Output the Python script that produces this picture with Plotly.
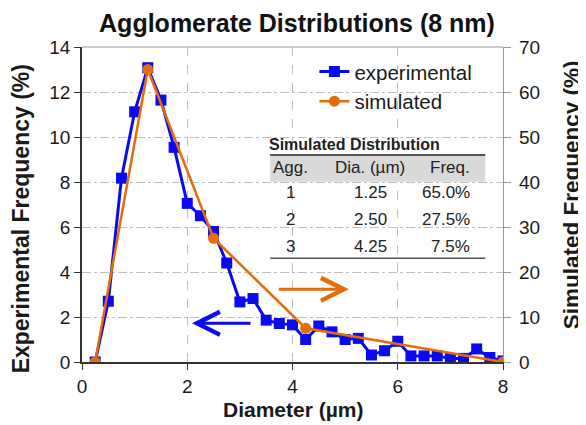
import plotly.graph_objects as go

# Experimental data
exp_x = [0.25, 0.5, 0.75, 1.0, 1.25, 1.5, 1.75, 2.0, 2.25, 2.5, 2.75, 3.0, 3.25, 3.5, 3.75,
         4.0, 4.25, 4.5, 4.75, 5.0, 5.25, 5.5, 5.75, 6.0, 6.25, 6.5, 6.75, 7.0, 7.25, 7.5, 7.75, 8.0]
exp_y = [0.0, 2.7, 8.17, 11.12, 13.08, 11.64, 9.54, 7.05, 6.5, 5.8, 4.4, 2.67, 2.82, 1.86, 1.71,
         1.65, 1.0, 1.6, 1.34, 1.0, 1.05, 0.31, 0.5, 0.92, 0.27, 0.27, 0.27, 0.16, 0.16, 0.58, 0.2, 0.05]

# Simulated data (right axis)
sim_x = [0.25, 1.25, 2.5, 4.25, 8.0]
sim_y = [0.0, 65.0, 27.5, 7.5, 0.0]

# Table contents
table_title = "Simulated Distribution"
table_header = ["Agg.", "Dia. (µm)", "Freq."]
table_agg = ["1", "2", "3"]
table_dia = ["1.25", "2.50", "4.25"]
table_freq = ["65.0%", "27.5%", "7.5%"]

x_ticks = [0, 2, 4, 6, 8]
y_ticks = [0, 2, 4, 6, 8, 10, 12, 14]
y2_ticks = [0, 10, 20, 30, 40, 50, 60, 70]

BLUE = "#0A0AF0"
ORANGE = "#E46C0A"
FONT = "Liberation Sans, Arial, sans-serif"
GRID = "#BFBFBF"
TXT = "#1a1a1a"

fig = go.Figure()
fig.add_trace(go.Scatter(x=exp_x, y=exp_y, name="experimental", mode="lines+markers",
                         line=dict(color=BLUE, width=3),
                         marker=dict(symbol="square", size=11, color=BLUE)))
fig.add_trace(go.Scatter(x=sim_x, y=sim_y, name="simulated", mode="lines+markers", yaxis="y2",
                         line=dict(color=ORANGE, width=2.5),
                         marker=dict(symbol="circle", size=11, color=ORANGE)))

# page body has an 8px default margin: the figure is sized so it ends at the window edge
W, H = 578, 417
fig.update_layout(
    width=W, height=H,
    margin=dict(l=74, r=83, t=39, b=63, autoexpand=False),
    paper_bgcolor="white", plot_bgcolor="white",
    font=dict(family=FONT, size=19, color=TXT),
    title=dict(text="<b>Agglomerate Distributions (8 nm)</b>", x=0.5, xanchor="center",
               xref="container", y=1 - 15 / H, yref="container", yanchor="middle",
               font=dict(size=25, color="#111")),
    showlegend=True,
    legend=dict(x=0.552, y=0.985, xanchor="left", yanchor="top", bgcolor="rgba(0,0,0,0)",
                font=dict(size=20.5), itemwidth=30, tracegroupgap=0),
    xaxis=dict(range=[0, 8], tickvals=x_ticks, showline=True, linecolor="#333", linewidth=1.5,
               ticks="outside", ticklen=6, tickcolor="#333", showgrid=True, gridcolor=GRID,
               griddash="dash", gridwidth=1, zeroline=False, automargin=False),
    yaxis=dict(range=[0, 14], tickvals=y_ticks, showline=True, linecolor="#333", linewidth=1.5,
               ticks="outside", ticklen=6, tickcolor="#333", showgrid=True, gridcolor=GRID,
               griddash="dashdot", gridwidth=1, zeroline=False, automargin=False),
    yaxis2=dict(range=[0, 70], tickvals=y2_ticks, overlaying="y", side="right", showline=True,
                linecolor="#999", linewidth=1.2, ticks="outside", ticklen=7, tickcolor="#999",
                showgrid=False, zeroline=False, automargin=False, ticklabelstandoff=4),
)

# axis titles
fig.add_annotation(x=0.5, y=-0.152, xref="paper", yref="paper", text="<b>Diameter (µm)</b>",
                   showarrow=False, xanchor="center", yanchor="middle",
                   font=dict(size=21, color=TXT))
fig.add_annotation(x=-0.144, y=0.454, xref="paper", yref="paper",
                   text="<b>Experimental Frequency (%)</b>", textangle=-90,
                   showarrow=False, xanchor="center", yanchor="middle",
                   font=dict(size=23, color=TXT))
fig.add_annotation(x=1.162, y=0.530, xref="paper", yref="paper",
                   text="<b>Simulated Frequency (%)</b>", textangle=-90,
                   showarrow=False, xanchor="center", yanchor="middle",
                   font=dict(size=22.5, color=TXT))

# top border
fig.add_shape(type="line", xref="paper", yref="paper", x0=0, x1=1, y0=1, y1=1,
              line=dict(color="#999", width=1.2))

# arrows
fig.add_annotation(x=5.07, y=3.23, ax=3.71, ay=3.23, xref="x", yref="y", axref="x", ayref="y",
                   text="", showarrow=True, arrowhead=5, arrowsize=1.5, arrowwidth=3,
                   arrowcolor=ORANGE)
fig.add_annotation(x=2.09, y=1.72, ax=3.23, ay=1.72, xref="x", yref="y", axref="x", ayref="y",
                   text="", showarrow=True, arrowhead=5, arrowsize=1.5, arrowwidth=3,
                   arrowcolor=BLUE)

# table
tx0, tx1 = 0.447, 0.958
fig.add_shape(type="rect", xref="paper", yref="paper", x0=tx0, x1=tx1, y0=0.572, y1=0.657,
              fillcolor="#D9D9D9", line=dict(width=0), layer="above")
fig.add_shape(type="line", xref="paper", yref="paper", x0=tx0, x1=tx1, y0=0.657, y1=0.657,
              line=dict(color="#555", width=2))
fig.add_shape(type="line", xref="paper", yref="paper", x0=tx0, x1=tx1, y0=0.329, y1=0.329,
              line=dict(color="#555", width=1.5))
fig.add_annotation(x=0.439, y=0.692, xref="paper", yref="paper", text="<b>" + table_title + "</b>",
                   showarrow=False, xanchor="left", yanchor="middle",
                   font=dict(size=16, color="#222"))
col_x = [0.495, 0.685, 0.927]
col_anchor = ["center", "center", "right"]
for i, h in enumerate(table_header):
    fig.add_annotation(x=col_x[i], y=0.616, xref="paper", yref="paper", text=h, showarrow=False,
                       xanchor=col_anchor[i], yanchor="middle", font=dict(size=17, color="#222"))
row_y = [0.537, 0.451, 0.368]
for r in range(3):
    vals = [table_agg[r], table_dia[r], table_freq[r]]
    for i, v in enumerate(vals):
        fig.add_annotation(x=col_x[i], y=row_y[r], xref="paper", yref="paper", text=v,
                           showarrow=False, xanchor=col_anchor[i], yanchor="middle",
                           font=dict(size=17, color="#222"))

fig.write_html("out.html")
